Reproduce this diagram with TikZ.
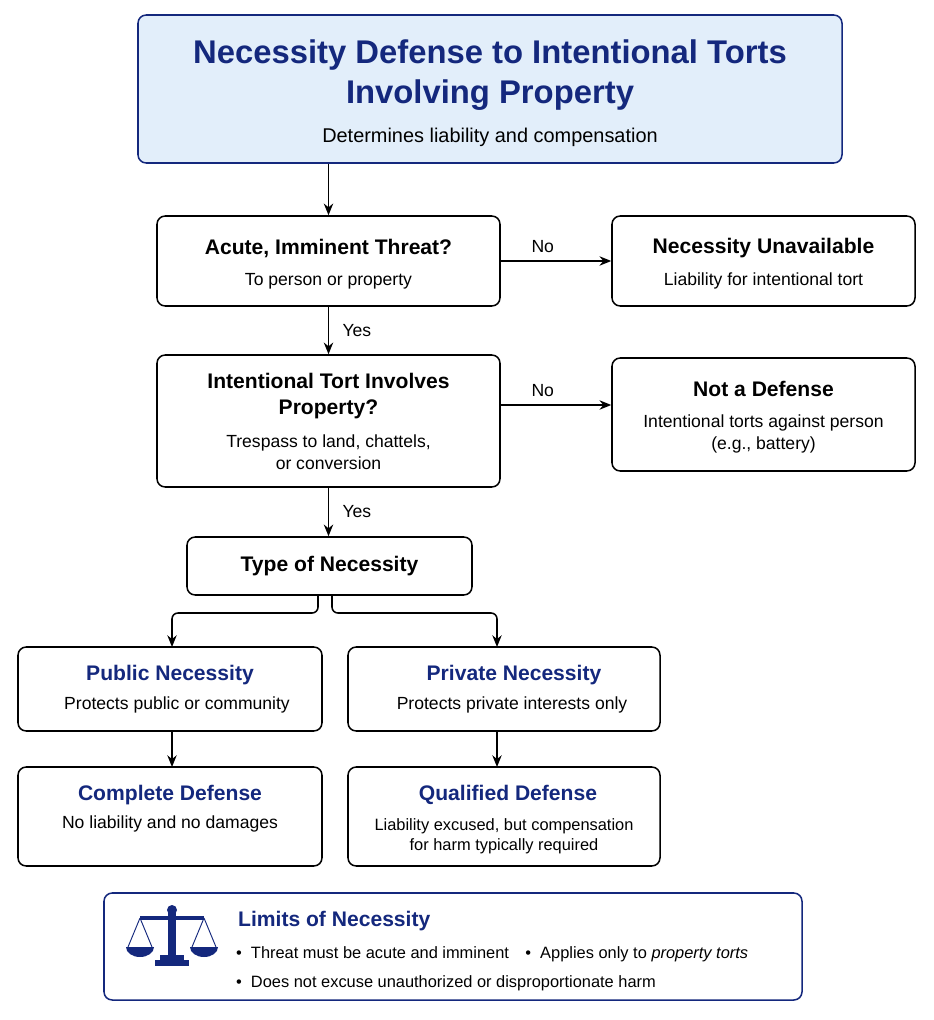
\documentclass[tikz,border=0pt]{standalone}
\usepackage{fontspec}
\setmainfont{Liberation Sans}
\usetikzlibrary{arrows.meta,positioning,calc}
\definecolor{navy}{RGB}{20,40,125}
\definecolor{paleblue}{RGB}{226,238,250}
\tikzset{
  box/.style={draw=black,line width=1.3pt,rounded corners=7pt,fill=white,align=center,inner sep=0pt},
  head/.style={font=\fontsize{18}{22}\selectfont\bfseries},
  sub/.style={font=\fontsize{15}{19}\selectfont},
  lbl/.style={font=\fontsize{15}{18}\selectfont},
  arr/.style={-{Stealth[length=10pt,width=8pt]},line width=1.3pt}
}
\begin{document}
\begin{tikzpicture}[x=0.03cm,y=-0.03cm]
    \useasboundingbox (0,0) rectangle (933,1020);

    % title
    \node[box,draw=navy,fill=paleblue,minimum width=704*0.03cm,minimum height=148*0.03cm] (title) at (490,89) {};
    \node[font=\fontsize{28}{34}\selectfont\bfseries,text=navy,align=center] at (490,75) {Necessity Defense to Intentional Torts\\Involving Property};
    \node[sub,font=\fontsize{17}{20}\selectfont] at (490,137) {Determines liability and compensation};

    % decision boxes
    \node[box,minimum width=343*0.03cm,minimum height=90*0.03cm] (acute) at (328.5,261) {};
    \node[head] at (328.5,248) {Acute, Imminent Threat?};
    \node[sub] at (328.5,281) {To person or property};

    \node[box,minimum width=303*0.03cm,minimum height=90*0.03cm] (unavail) at (763.5,261) {};
    \node[head] at (763.5,248) {Necessity Unavailable};
    \node[sub] at (763.5,281) {Liability for intentional tort};

    \node[box,minimum width=343*0.03cm,minimum height=132*0.03cm] (prop) at (328.5,421) {};
    \node[head,align=center] at (328.5,396) {Intentional Tort Involves\\Property?};
    \node[sub,align=center] at (328.5,452) {Trespass to land, chattels,\\or conversion};

    \node[box,minimum width=303*0.03cm,minimum height=113*0.03cm] (notdef) at (763.5,414.5) {};
    \node[head] at (763.5,389) {Not a Defense};
    \node[sub,align=center] at (763.5,434) {Intentional torts against person\\(e.g., battery)};

    \node[box,minimum width=285*0.03cm,minimum height=58*0.03cm] (type) at (329.5,566) {};
    \node[head] at (329.5,566) {Type of Necessity};

    % kinds
    \node[box,minimum width=304*0.03cm,minimum height=84*0.03cm] (public) at (170,689) {};
    \node[head,text=navy] at (170,675) {Public Necessity};
    \node[sub] at (177,705) {Protects public or community};

    \node[box,minimum width=312*0.03cm,minimum height=84*0.03cm] (private) at (504,689) {};
    \node[head,text=navy] at (514,675) {Private Necessity};
    \node[sub] at (512,705) {Protects private interests only};

    \node[box,minimum width=304*0.03cm,minimum height=99*0.03cm] (complete) at (170,816.5) {};
    \node[head,text=navy] at (170,795) {Complete Defense};
    \node[sub] at (170,824) {No liability and no damages};

    \node[box,minimum width=312*0.03cm,minimum height=99*0.03cm] (qualified) at (504,816.5) {};
    \node[head,text=navy] at (508,795) {Qualified Defense};
    \node[sub,font=\fontsize{14}{17}\selectfont,align=center] at (504,836) {Liability excused, but compensation\\for harm typically required};

    % limits
    \node[box,draw=navy,minimum width=698*0.03cm,minimum height=107*0.03cm] (limits) at (453,946.5) {};
    \node[head,text=navy,anchor=west] at (234,921) {Limits of Necessity};
    \node[sub,font=\fontsize{14}{17}\selectfont,anchor=west] at (232,954) {\textbullet\ \ Threat must be acute and imminent\quad \textbullet\ \ Applies only to \textit{property torts}};
    \node[sub,font=\fontsize{14}{17}\selectfont,anchor=west] at (232,983) {\textbullet\ \ Does not excuse unauthorized or disproportionate harm};

    % scales
    \fill[navy] (168,912) rectangle (176,962);
    \fill[navy] (172,910) circle[radius=5];
    \fill[navy] (155,960) rectangle (189,966);
    \fill[navy] (160,955) rectangle (184,961);
    \draw[navy,line width=3pt] (140,918) -- (204,918);
    \draw[navy,thick] (140,918) -- (128,947) (140,918) -- (152,947);
    \draw[navy,thick] (204,918) -- (192,947) (204,918) -- (216,947);
    \fill[navy] (126,947) arc[start angle=180,end angle=360,x radius=14,y radius=-10] -- cycle;
    \fill[navy] (190,947) arc[start angle=180,end angle=360,x radius=14,y radius=-10] -- cycle;

    % connectors
    \draw[arr] (title.south -| acute) -- (acute.north);
    \draw[arr] (acute.east) -- node[lbl,above,pos=0.38,yshift=3pt] {No} (unavail.west);
    \draw[arr] (acute.south) -- node[lbl,right,xshift=8pt] {Yes} (prop.north -| acute);
    \draw[arr] ([yshift=0.48cm]prop.east) -- node[lbl,above,pos=0.38,yshift=3pt] {No} ([yshift=0.48cm]prop.east -| notdef.west);
    \draw[arr] (prop.south) -- node[lbl,right,xshift=8pt] {Yes} (type.north -| prop);
    \coordinate (splitL) at (318,595);
    \coordinate (splitR) at (332,595);
    \draw[arr,rounded corners=5pt] (splitL) -- (318,613) -- (172,613) -- (172,647);
    \draw[arr,rounded corners=5pt] (splitR) -- (332,613) -- (497,613) -- (497,647);
    \draw[arr] (public.south -| 172,0) -- (172,767);
    \draw[arr] (private.south -| 497,0) -- (497,767);
\end{tikzpicture}
\end{document}
